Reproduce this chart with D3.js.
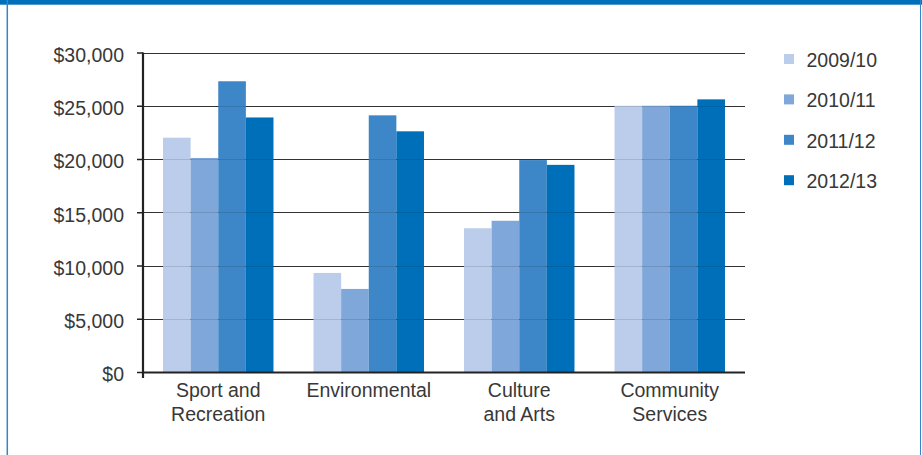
<!DOCTYPE html>
<html>
<head>
<meta charset="utf-8">
<script src="https://cdn.jsdelivr.net/npm/d3@7"></script>
<style>
  html, body { margin: 0; padding: 0; background: #fff; }
  svg { display: block; }
  text { font-family: "Liberation Sans", Arial, Helvetica, sans-serif; fill: #383838; }
</style>
</head>
<body>
<svg id="chart" width="922" height="455"></svg>
<script>
const categories = [["Sport and", "Recreation"], ["Environmental"], ["Culture", "and Arts"], ["Community", "Services"]];
const seriesNames = ["2009/10", "2010/11", "2011/12", "2012/13"];
const v2009 = [22000, 9300, 13500, 25000];
const v2010 = [20100, 7800, 14200, 25000];
const v2011 = [27300, 24100, 19900, 25000];
const v2012 = [23900, 22600, 19450, 25600];
const seriesValues = [v2009, v2010, v2011, v2012];
const colors = ["#bbcdea", "#7fa7d9", "#3d87c8", "#006fba"];
const yTicks = [0, 5000, 10000, 15000, 20000, 25000, 30000];

(function () {
const svg = d3.select("#chart");
const W = 922, H = 455;
const FS = 19.5;

// frame
svg.append("rect").attr("x", 0).attr("y", 0).attr("width", W).attr("height", 4.7).attr("fill", "#0070ba");
svg.append("line").attr("x1", 7.3).attr("x2", 7.3).attr("y1", 0).attr("y2", H).attr("stroke", "#2f86c8").attr("stroke-width", 1.5);
svg.append("line").attr("x1", 920.5).attr("x2", 920.5).attr("y1", 0).attr("y2", H).attr("stroke", "#2f86c8").attr("stroke-width", 1);

const pLeft = 143, pRight = 745, pTop = 52.5, pBottom = 372;
const catKeys = categories.map((c, i) => i);
const x0 = d3.scaleBand().domain(catKeys).range([pLeft, pRight]).paddingInner(0.266).paddingOuter(0.133);
const x1 = d3.scaleBand().domain(seriesNames).range([0, x0.bandwidth()]).padding(0);
const y = d3.scaleLinear().domain([0, 30000]).range([pBottom, pTop]);

// gridlines
svg.append("g").selectAll("line").data(yTicks.filter(t => t > 0)).join("line")
  .attr("x1", pLeft).attr("x2", pRight)
  .attr("y1", d => Math.round(y(d)) + 0.5).attr("y2", d => Math.round(y(d)) + 0.5)
  .attr("stroke", "#3a3a3a").attr("stroke-width", 1.2);

// bars
const groups = svg.append("g").selectAll("g").data(catKeys).join("g")
  .attr("transform", d => `translate(${x0(d)},0)`);
groups.selectAll("rect").data(ci => seriesNames.map((s, si) => ({ s, si, v: seriesValues[si][ci] })))
  .join("rect")
  .attr("x", d => x1(d.s))
  .attr("width", x1.bandwidth())
  .attr("y", d => y(d.v))
  .attr("height", d => y(0) - y(d.v))
  .attr("fill", d => colors[d.si]);

// faint gridline overlay over bars
svg.append("g").selectAll("line").data(yTicks.filter(t => t > 0)).join("line")
  .attr("x1", pLeft).attr("x2", pRight)
  .attr("y1", d => Math.round(y(d)) + 0.5).attr("y2", d => Math.round(y(d)) + 0.5)
  .attr("stroke", "#000").attr("stroke-opacity", 0.12).attr("stroke-width", 1);

// y axis
const yAxis = d3.axisLeft(y).tickValues(yTicks).tickSize(6).tickPadding(13)
  .tickFormat(d => "$" + d3.format(",")(d));
const ya = svg.append("g").attr("transform", `translate(${pLeft},0)`).call(yAxis);
ya.select(".domain").remove();
ya.selectAll(".tick line").attr("stroke", "#222").attr("stroke-width", 1.5);
ya.selectAll(".tick text").attr("font-size", FS).attr("fill", "#383838").attr("dy", "0.45em")
  .style("font-family", '"Liberation Sans", Arial, sans-serif');

svg.append("line").attr("x1", pLeft).attr("x2", pLeft).attr("y1", pTop).attr("y2", pBottom + 6)
  .attr("stroke", "#222").attr("stroke-width", 2.2);
svg.append("line").attr("x1", pLeft).attr("x2", pRight).attr("y1", pBottom + 0.5).attr("y2", pBottom + 0.5)
  .attr("stroke", "#222").attr("stroke-width", 2.2);

// x axis labels
const xl = svg.append("g").selectAll("text").data(catKeys).join("text")
  .attr("x", d => x0(d) + x0.bandwidth() / 2)
  .attr("y", 397)
  .attr("text-anchor", "middle")
  .attr("font-size", FS);
xl.selectAll("tspan").data(d => categories[d]).join("tspan")
  .attr("x", function() { return d3.select(this.parentNode).attr("x"); })
  .attr("dy", (d, i) => i === 0 ? 0 : 24)
  .text(d => d);

// legend
const lg = svg.append("g").selectAll("g").data(seriesNames).join("g")
  .attr("transform", (d, i) => `translate(784,${54 + i * 40.4})`);
lg.append("rect").attr("x", 0).attr("y", 0).attr("width", 10).attr("height", 10).attr("fill", (d, i) => colors[i]);
lg.append("text").attr("x", 22.5).attr("y", 12.7).attr("font-size", FS).text(d => d);
})();
</script>
</body>
</html>
